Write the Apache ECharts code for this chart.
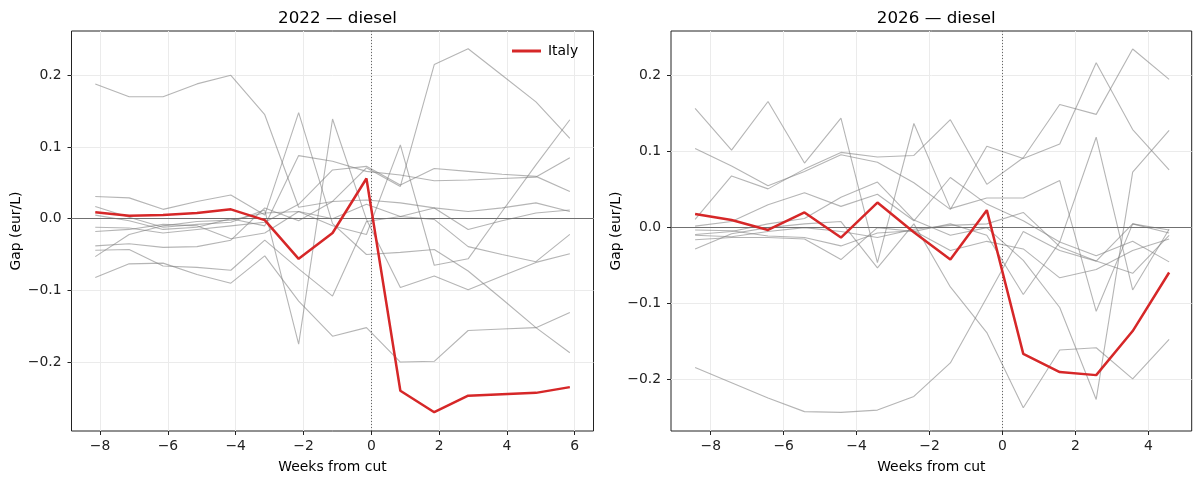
<!DOCTYPE html>
<html>
<head>
<meta charset="utf-8">
<script src="https://cdn.jsdelivr.net/npm/echarts@6/dist/echarts.min.js"></script>
<style>
  html, body { margin: 0; padding: 0; background: #fff; }
  #chart { width: 1196px; height: 479px; }
</style>
</head>
<body>
<div id="chart"></div>
<script>
// Weeks relative to the excise cut (weekly price observations)
const weeks2022 = [-8.143, -7.143, -6.143, -5.143, -4.143, -3.143, -2.143, -1.143, -0.143, 0.857, 1.857, 2.857, 3.857, 4.857, 5.857];
const weeks2026 = [-8.429, -7.429, -6.429, -5.429, -4.429, -3.429, -2.429, -1.429, -0.429, 0.571, 1.571, 2.571, 3.571, 4.571];

// Italy diesel price gap (eur/L)
const italy2022 = [0.009, 0.004, 0.005, 0.008, 0.013, -0.002, -0.056, -0.020, 0.056, -0.240, -0.270, -0.247, -0.245, -0.243, -0.235];
const italy2026 = [0.018, 0.010, -0.003, 0.020, -0.013, 0.033, -0.006, -0.042, 0.023, -0.166, -0.190, -0.194, -0.136, -0.059];

// Comparison countries, 2022
const others2022 = [
  [0.188, 0.170, 0.170, 0.188, 0.200, 0.145, 0.016, 0.024, 0.071, 0.045, 0.215, 0.237, 0.200, 0.163, 0.112],
  [0.031, 0.029, 0.013, 0.024, 0.033, 0.005, 0.148, -0.007, -0.050, -0.047, -0.043, -0.073, -0.112, -0.152, -0.187],
  [0.017, 0.002, -0.012, -0.008, -0.005, 0.012, -0.175, 0.139, -0.001, -0.096, -0.080, -0.099, -0.080, -0.061, -0.049],
  [0.005, -0.003, -0.015, -0.012, 0.000, -0.010, 0.088, 0.080, 0.066, 0.061, 0.053, 0.054, 0.056, 0.058, 0.085],
  [-0.012, -0.013, -0.020, -0.015, -0.010, -0.005, 0.020, 0.068, 0.073, 0.047, 0.070, 0.066, 0.062, 0.059, 0.038],
  [-0.018, -0.015, -0.008, -0.010, -0.028, -0.020, 0.010, -0.010, -0.022, 0.103, -0.065, -0.056, 0.010, 0.075, 0.138],
  [-0.038, -0.035, -0.040, -0.039, -0.030, 0.015, -0.003, 0.024, 0.026, 0.022, 0.015, -0.015, -0.003, 0.008, 0.012],
  [-0.044, -0.043, -0.066, -0.068, -0.072, -0.030, -0.070, -0.108, -0.004, 0.003, -0.001, -0.039, -0.050, -0.060, -0.022],
  [-0.053, -0.022, -0.010, -0.004, -0.002, 0.008, 0.010, 0.000, 0.020, 0.003, 0.015, 0.010, 0.015, 0.022, 0.010],
  [-0.082, -0.063, -0.062, -0.078, -0.090, -0.052, -0.115, -0.164, -0.152, -0.200, -0.199, -0.156, -0.154, -0.152, -0.131]
];

// Comparison countries, 2026
const others2026 = [
  [0.157, 0.102, 0.166, 0.085, 0.144, -0.046, 0.137, 0.025, 0.039, 0.039, 0.062, -0.110, 0.005, -0.007],
  [0.104, 0.081, 0.055, 0.074, 0.096, 0.086, 0.059, 0.024, 0.107, 0.091, 0.110, 0.217, 0.129, 0.076],
  [0.011, 0.068, 0.051, 0.077, 0.099, 0.093, 0.095, 0.142, 0.057, 0.092, 0.162, 0.149, 0.235, 0.195],
  [0.002, 0.008, 0.030, 0.046, 0.028, 0.044, 0.009, 0.066, 0.031, 0.009, -0.019, 0.119, -0.082, -0.002],
  [-0.003, -0.004, -0.011, -0.013, -0.024, -0.007, -0.004, -0.030, -0.018, -0.028, -0.066, -0.055, -0.030, -0.015],
  [-0.009, -0.005, 0.005, 0.012, 0.040, 0.060, 0.010, -0.010, 0.000, -0.043, -0.105, -0.226, 0.073, 0.128],
  [-0.016, -0.013, -0.013, -0.015, -0.042, 0.000, -0.005, 0.005, -0.010, -0.088, -0.019, -0.037, -0.018, -0.045],
  [-0.028, -0.008, 0.000, 0.005, 0.008, -0.053, 0.005, -0.078, -0.138, -0.237, -0.161, -0.158, -0.199, -0.147],
  [-0.184, -0.204, -0.224, -0.242, -0.243, -0.240, -0.222, -0.178, -0.092, -0.005, -0.030, -0.044, 0.005, -0.003],
  [-0.010, -0.012, -0.005, 0.000, -0.005, -0.013, -0.002, 0.003, 0.005, 0.020, -0.025, -0.044, -0.060, -0.010]
];

// Tick positions
const xTicks2022 = [-8, -6, -4, -2, 0, 2, 4, 6];
const xTicks2026 = [-8, -6, -4, -2, 0, 2, 4];
const yTicks = [-0.2, -0.1, 0, 0.1, 0.2];

const FONT = 'DejaVu Sans';
const INK = '#222';
const minus = s => String(s).replace('-', '\u2212');

function pairs(xs, ys) { return xs.map((x, i) => [x, ys[i]]); }

function xAxis(grid, min, max, ticks) {
  return {
    type: 'value', gridIndex: grid, min: min, max: max, splitNumber: 8,
    name: 'Weeks from cut', nameLocation: 'middle', nameGap: 29,
    nameTextStyle: { fontFamily: FONT, fontSize: 13.9, color: '#000' },
    axisLine: { show: false, onZero: false },
    axisTick: { show: true, length: 4, lineStyle: { color: INK, width: 1 }, customValues: ticks },
    axisLabel: { customValues: ticks, fontFamily: FONT, fontSize: 13.9, color: INK, margin: 8,
                 formatter: v => minus(Math.round(v)) },
    splitLine: { show: true, lineStyle: { color: '#ebebeb', width: 1 } }
  };
}

function yAxis(grid, min, max) {
  return {
    type: 'value', gridIndex: grid, min: min, max: max, splitNumber: 5,
    name: 'Gap (eur/L)', nameLocation: 'middle', nameGap: 44, nameRotate: 90,
    nameTextStyle: { fontFamily: FONT, fontSize: 13.9, color: '#000' },
    axisLine: { show: false, onZero: false },
    axisTick: { show: true, length: 4, lineStyle: { color: INK, width: 1 }, customValues: yTicks },
    axisLabel: { customValues: yTicks, fontFamily: FONT, fontSize: 13.9, color: INK, margin: 10,
                 formatter: v => minus(v.toFixed(1)) },
    splitLine: { show: true, lineStyle: { color: '#ebebeb', width: 1 } }
  };
}

function panelSeries(idx, weeks, others, italy) {
  const out = others.map(vals => ({
    type: 'line', xAxisIndex: idx, yAxisIndex: idx, data: pairs(weeks, vals),
    symbol: 'none', silent: true, z: 2,
    lineStyle: { color: 'rgba(128,128,128,0.58)', width: 1.1 }
  }));
  out.push({
    type: 'line', xAxisIndex: idx, yAxisIndex: idx, data: [],
    symbol: 'none', silent: true, z: 1,
    markLine: {
      symbol: 'none', silent: true, label: { show: false },
      data: [
        { yAxis: 0, lineStyle: { color: '#707070', width: 1, type: 'solid' } },
        { xAxis: 0, lineStyle: { color: '#666', width: 1, type: [1, 2] } }
      ]
    }
  });
  out.push({
    name: 'Italy', type: 'line', xAxisIndex: idx, yAxisIndex: idx, data: pairs(weeks, italy),
    symbol: 'none', z: 5,
    lineStyle: { color: '#d62728', width: 2.5 }, itemStyle: { color: '#d62728' }
  });
  return out;
}

const chart = echarts.init(document.getElementById('chart'), null, { renderer: 'canvas' });
chart.setOption({
  animation: false,
  backgroundColor: '#fff',
  title: [
    { text: '2022 \u2014 diesel', left: 332.5, top: 5, textAlign: 'center',
      textStyle: { fontFamily: FONT, fontSize: 16.7, fontWeight: 'normal', color: '#000' } },
    { text: '2026 \u2014 diesel', left: 931.3, top: 5, textAlign: 'center',
      textStyle: { fontFamily: FONT, fontSize: 16.7, fontWeight: 'normal', color: '#000' } }
  ],
  legend: {
    data: [{ name: 'Italy', icon: 'rect' }], left: 507, top: 39,
    itemWidth: 29, itemHeight: 3, itemGap: 8,
    textStyle: { fontFamily: FONT, fontSize: 13.9, color: '#000', padding: [0, 0, 0, 2] }
  },
  grid: [
    { left: 71.5, top: 31, width: 522, height: 400.7, show: true, borderColor: INK, borderWidth: 1, containLabel: false },
    { left: 671, top: 31, width: 520.7, height: 400.7, show: true, borderColor: INK, borderWidth: 1, containLabel: false }
  ],
  xAxis: [
    xAxis(0, -8.844, 6.555, xTicks2022),
    xAxis(1, -9.09, 5.19, xTicks2026)
  ],
  yAxis: [
    yAxis(0, -0.2962, 0.2618),
    yAxis(1, -0.2675, 0.2587)
  ],
  series: [].concat(
    panelSeries(0, weeks2022, others2022, italy2022),
    panelSeries(1, weeks2026, others2026, italy2026)
  )
});
</script>
</body>
</html>
